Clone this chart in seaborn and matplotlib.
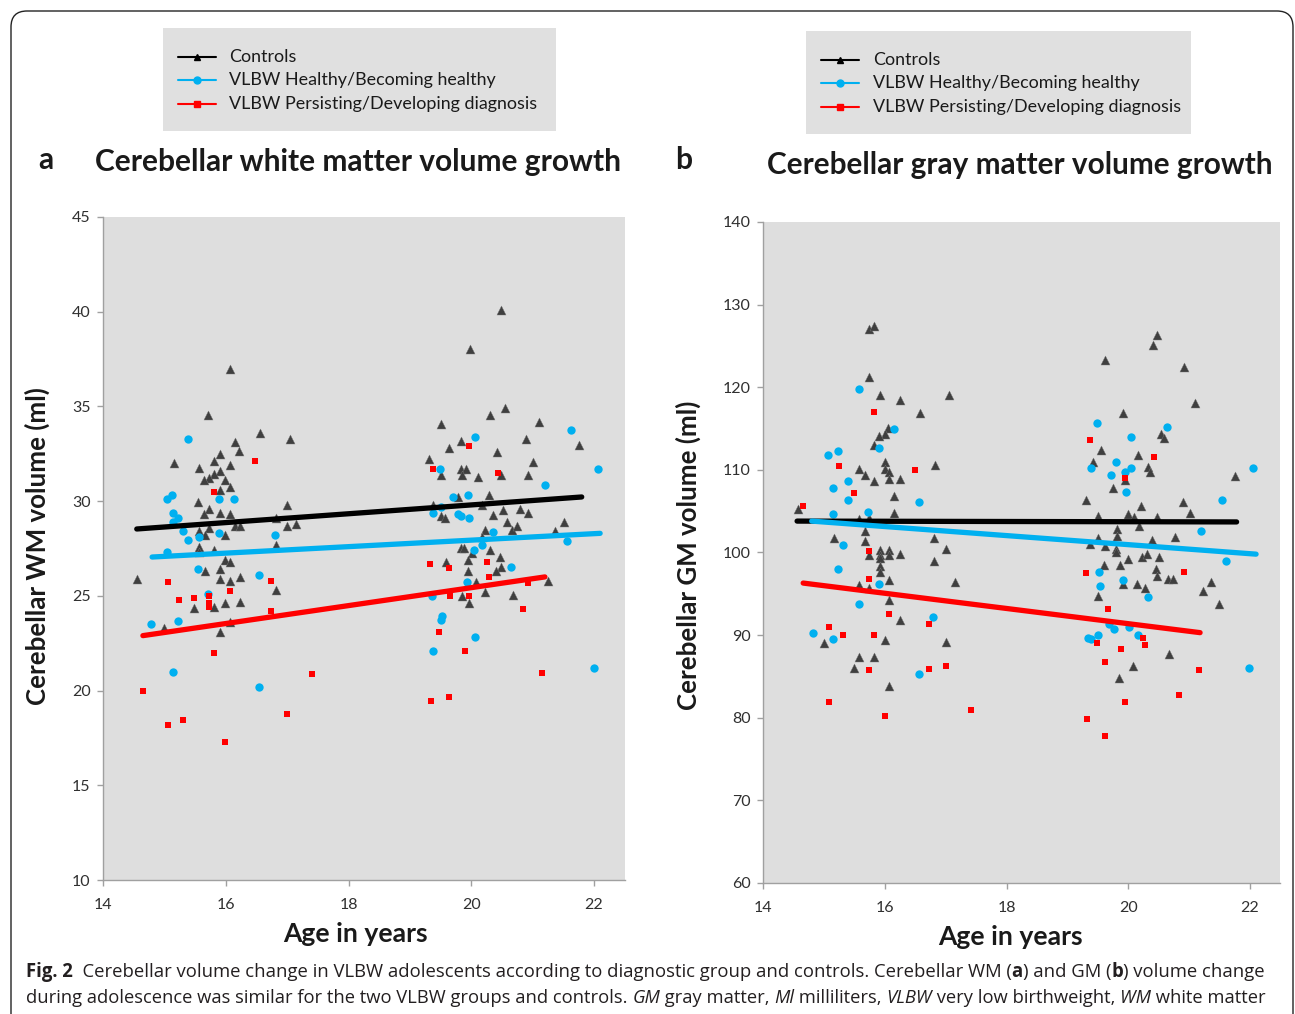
import matplotlib
matplotlib.use("Agg")
import matplotlib.pyplot as plt
import seaborn as sns
from matplotlib.lines import Line2D
from matplotlib.patches import Rectangle, FancyBboxPatch
from matplotlib.transforms import IdentityTransform

# ---------------- data ----------------
# Panel a: cerebellar white matter volume (ml)
wm_ctrl_age = [16.07, 15.71, 16.55, 17.05, 16.15, 16.22, 15.9, 15.16, 15.81, 16.07, 15.56, 15.9, 15.81, 15.72,
               15.65, 15.98, 16.07, 15.9, 15.54, 16.99, 15.72, 15.65, 15.9, 16.07, 16.82, 17.14, 16.15, 16.23,
               16.99, 15.56, 15.72, 15.66, 15.99, 16.82, 15.56, 15.81, 15.56, 15.99, 16.07, 15.66, 15.9, 14.56,
               15.9, 16.07, 16.23, 16.82, 15.81, 15.48, 15.99, 16.23, 15.0, 15.9, 16.07,
               20.49, 19.98, 20.55, 20.31, 19.51, 21.1, 19.83, 20.9, 19.64, 20.42, 21.75, 19.31, 21.0, 19.83,
               19.92, 19.51, 19.85, 20.11, 20.49, 20.92, 19.79, 20.29, 19.37, 20.18, 20.51, 20.79, 19.5, 20.93,
               19.57, 20.36, 20.59, 21.51, 20.22, 20.66, 20.74, 21.36, 20.18, 19.83, 19.88, 20.31, 20.01, 20.47,
               19.94, 19.59, 20.49, 20.4, 19.94, 20.07, 21.25, 19.85, 20.22, 20.68, 19.96]
wm_ctrl_vol = [37.0, 34.56, 33.6, 33.3, 33.1, 32.65, 32.5, 32.0, 32.1, 31.9, 31.75, 31.6, 31.45, 31.2,
               31.1, 31.1, 30.75, 30.6, 29.94, 29.8, 29.6, 29.3, 29.4, 29.3, 29.1, 28.8, 28.7, 28.7,
               28.7, 28.45, 28.57, 28.2, 28.2, 27.7, 27.6, 27.4, 27.3, 26.9, 26.8, 26.3, 26.4, 25.9,
               25.9, 25.8, 26.0, 25.3, 24.4, 24.35, 24.6, 24.7, 23.3, 23.1, 23.6,
               40.09, 38.03, 34.92, 34.56, 34.07, 34.2, 33.2, 33.3, 32.8, 32.6, 32.95, 32.2, 32.05, 31.7,
               31.7, 31.4, 31.4, 31.3, 31.4, 31.4, 30.2, 30.3, 29.8, 29.8, 29.55, 29.6, 29.2, 29.4,
               29.1, 29.25, 28.9, 28.9, 28.5, 28.5, 28.7, 28.4, 28.1, 27.55, 27.55, 27.4, 27.25, 27.05,
               26.9, 26.8, 26.5, 26.3, 26.3, 25.75, 25.8, 25.0, 25.2, 25.05, 24.6]
wm_healthy_age = [15.38, 15.13, 15.05, 15.89, 16.13, 15.14, 15.23, 15.14, 15.3, 15.89, 15.38, 15.57, 16.8, 15.05,
                  15.55, 16.54, 15.71, 14.79, 15.23, 15.14, 16.54,
                  20.06, 21.63, 19.49, 22.07, 21.2, 19.71, 19.95, 19.51, 19.38, 19.79, 19.83, 19.96, 20.35, 21.56,
                  20.17, 20.04, 20.65, 19.93, 19.36, 19.53, 19.51, 20.06, 19.38, 22.0]
wm_healthy_vol = [33.3, 30.35, 30.1, 30.1, 30.1, 29.4, 29.1, 28.9, 28.4, 28.3, 27.97, 28.1, 28.2, 27.3,
                  26.4, 26.1, 25.1, 23.5, 23.65, 21.0, 20.2,
                  33.4, 33.74, 31.7, 31.7, 30.83, 30.2, 30.3, 29.7, 29.4, 29.3, 29.2, 29.1, 28.35, 27.9,
                  27.7, 27.4, 26.5, 25.75, 25.0, 23.95, 23.7, 22.85, 22.1, 21.2]
wm_diag_age = [16.48, 15.81, 15.06, 16.73, 16.07, 15.72, 15.24, 15.48, 15.72, 15.72, 16.73, 15.81, 14.65, 15.06,
               15.31, 16.99, 15.99, 17.4,
               19.96, 19.37, 20.44, 20.25, 19.33, 19.64, 20.29, 20.92, 19.65, 19.96, 20.84, 19.48, 19.9, 21.16,
               19.35, 19.64]
wm_diag_vol = [32.1, 30.5, 25.75, 25.8, 25.25, 25.0, 24.8, 24.9, 24.6, 24.4, 24.2, 22.0, 20.0, 18.2,
               18.45, 18.75, 17.3, 20.9,
               32.9, 31.7, 31.5, 26.8, 26.7, 26.45, 26.0, 25.7, 25.0, 25.0, 24.3, 23.1, 22.1, 20.94,
               19.45, 19.65]
# fitted growth lines (start / end)
wm_fit_ctrl_age, wm_fit_ctrl_vol = [14.55, 21.8], [28.53, 30.22]
wm_fit_healthy_age, wm_fit_healthy_vol = [14.8, 22.1], [27.05, 28.3]
wm_fit_diag_age, wm_fit_diag_vol = [14.65, 21.2], [22.9, 26.0]

# Panel b: cerebellar gray matter volume (ml)
gm_ctrl_age = [15.74, 15.83, 15.74, 15.92, 16.25, 17.06, 16.58, 16.06, 16.0, 15.91, 15.82, 16.0, 15.58, 16.0,
               16.07, 16.82, 15.68, 16.07, 16.25, 15.83, 16.16, 14.57, 16.16, 15.58, 15.74, 15.68, 15.17, 15.68,
               16.81, 17.0, 15.74, 15.92, 15.92, 16.07, 16.07, 16.25, 16.81, 15.92, 15.92, 15.92, 16.07, 15.58,
               15.74, 17.15, 16.07, 16.25, 16.0, 15.0, 17.0, 15.58, 15.83, 15.5, 16.07,
               20.47, 20.41, 19.62, 20.92, 21.09, 19.92, 20.54, 20.59, 19.55, 20.16, 19.42, 20.32, 20.35, 19.95,
               21.76, 19.75, 19.3, 20.9, 20.21, 21.01, 19.5, 19.99, 20.1, 20.47, 19.81, 19.81, 20.17, 19.5,
               19.37, 19.62, 20.39, 20.77, 19.8, 19.8, 20.0, 20.23, 20.31, 20.5, 19.6, 19.87, 20.45, 20.47,
               20.66, 20.74, 19.92, 20.15, 20.28, 21.36, 21.23, 19.5, 21.49, 20.67, 20.08, 19.84]
gm_ctrl_vol = [127.1, 127.4, 121.2, 119.1, 118.5, 119.1, 116.85, 115.1, 114.4, 114.1, 113.0, 111.0, 110.1, 110.1,
               109.7, 110.55, 109.4, 108.9, 108.9, 108.6, 106.8, 105.3, 104.8, 104.0, 104.2, 102.6, 101.7, 101.35,
               101.7, 100.4, 99.7, 100.3, 99.7, 100.3, 99.7, 99.8, 98.97, 99.3, 98.4, 97.6, 96.7, 96.1,
               95.75, 96.4, 94.3, 91.8, 89.4, 89.0, 89.2, 87.3, 87.3, 86.0, 83.85,
               126.3, 125.15, 123.3, 122.5, 118.1, 116.85, 114.4, 113.8, 112.4, 111.8, 111.0, 110.4, 109.8, 108.75,
               109.2, 107.8, 106.3, 106.1, 105.6, 104.8, 104.4, 104.7, 104.3, 104.3, 102.8, 102.0, 103.2, 101.8,
               101.0, 100.75, 101.55, 101.9, 100.4, 100.1, 99.25, 99.4, 99.8, 99.4, 98.5, 98.5, 98.0, 97.2,
               96.8, 96.8, 96.2, 96.2, 95.65, 96.4, 95.4, 94.7, 93.8, 87.75, 86.3, 84.85]
gm_healthy_age = [15.57, 16.15, 15.9, 15.24, 15.07, 15.4, 15.15, 15.4, 16.57, 15.15, 15.72, 15.31, 15.24, 15.9,
                  15.57, 16.8, 14.82, 15.15, 16.56,
                  19.49, 20.64, 20.05, 19.8, 19.38, 20.05, 19.94, 19.72, 22.05, 19.96, 21.54, 21.19, 21.61, 19.52,
                  19.91, 19.53, 20.33, 19.69, 19.76, 20.02, 19.34, 19.39, 19.5, 20.16, 21.98]
gm_healthy_vol = [119.8, 114.9, 112.65, 112.3, 111.8, 108.7, 107.8, 106.3, 106.1, 104.7, 104.9, 100.95, 97.97, 96.2,
                  93.8, 92.15, 90.2, 89.5, 85.3,
                  115.7, 115.2, 113.95, 111.0, 110.2, 110.2, 109.8, 109.4, 110.2, 107.3, 106.3, 102.6, 98.97, 97.7,
                  96.7, 96.0, 94.6, 91.3, 90.7, 91.0, 89.7, 89.5, 90.0, 90.05, 86.0]
gm_diag_age = [15.82, 15.25, 16.49, 15.5, 14.66, 15.74, 15.74, 16.07, 16.72, 15.08, 15.32, 15.82, 15.74, 16.72,
               17.0, 15.08, 16.0, 17.41,
               19.37, 20.43, 19.95, 19.3, 20.92, 19.67, 19.49, 20.24, 20.28, 19.88, 19.62, 21.16, 19.95, 20.83,
               19.33, 19.62]
gm_diag_vol = [117.0, 110.5, 110.0, 107.2, 105.6, 100.2, 96.8, 92.6, 91.3, 90.95, 90.0, 90.0, 85.75, 85.9,
               86.3, 81.9, 80.25, 80.9,
               113.6, 111.6, 109.0, 97.5, 97.6, 93.2, 89.1, 89.65, 88.8, 88.35, 86.7, 85.75, 81.9, 82.7,
               79.8, 77.8]
gm_fit_ctrl_age, gm_fit_ctrl_vol = [14.56, 21.78], [103.8, 103.7]
gm_fit_healthy_age, gm_fit_healthy_vol = [14.8, 22.1], [103.8, 99.8]
gm_fit_diag_age, gm_fit_diag_vol = [14.66, 21.18], [96.3, 90.3]

legend_labels = ["Controls", "VLBW Healthy/Becoming healthy", "VLBW Persisting/Developing diagnosis"]
wm_yticks = [10, 15, 20, 25, 30, 35, 40, 45]
gm_yticks = [60, 70, 80, 90, 100, 110, 120, 130, 140]
age_ticks = [14, 16, 18, 20, 22]

# ---------------- styling ----------------
W, H = 1295, 1014
sns.set_theme(style="white")
plt.rcParams["font.family"] = ["Lato", "DejaVu Sans"]

C_CTRL, C_HEAL, C_DIAG = "#3f3f3f", "#00b0f0", "#ff0000"
BG = "#dedede"
TXT = "#1a1a1a"

fig = plt.figure(figsize=(W / 100, H / 100), dpi=100)
fig.patch.set_facecolor("white")
renderer = fig.canvas.get_renderer()


def fx(px):
    return px / W


def fy(py):
    return 1 - py / H


def measure(s, **kw):
    t1 = fig.text(0, 0, "x" + s + "x", **kw)
    t2 = fig.text(0, 0, "xx", **kw)
    w = t1.get_window_extent(renderer).width - t2.get_window_extent(renderer).width
    t1.remove()
    t2.remove()
    return w


def fit_size(s, target, base=14, **kw):
    return base * target / measure(s, fontsize=base, **kw)


# outer rounded frame
frame = FancyBboxPatch((11, -30), 1282, H - 11 + 30, boxstyle="round,pad=0,rounding_size=16",
                       transform=IdentityTransform(), fill=False, ec="#222222", lw=1.0)
fig.add_artist(frame)


def make_axes(left, right, top, bottom, ylim, yticks, xright):
    ax = fig.add_axes([fx(left), fy(bottom), (right - left) / W, (bottom - top) / H])
    ax.set_facecolor(BG)
    for sp in ["top", "right"]:
        ax.spines[sp].set_visible(False)
    for sp in ["left", "bottom"]:
        ax.spines[sp].set_color("#a0a0a0")
        ax.spines[sp].set_linewidth(1.0)
    ax.set_xlim(14, xright)
    ax.set_ylim(*ylim)
    ax.set_xticks(age_ticks)
    ax.set_yticks(yticks)
    ax.tick_params(axis="both", direction="out", length=4, width=1, color="#a0a0a0",
                   labelsize=11.5, labelcolor="#303030", pad=5, left=True, bottom=True)
    ax.tick_params(axis="x", pad=9)
    ax.set_xlabel("")
    ax.set_ylabel("")
    return ax


ax_a = make_axes(103, 625, 217, 880, (10, 45), wm_yticks, 14 + 522 / 61.375)
ax_b = make_axes(763, 1280, 222, 883, (60, 140), gm_yticks, 14 + 517 / 60.875)


def draw_panel(ax, ca, cv, ha, hv, da, dv, fits):
    sns.scatterplot(x=ca, y=cv, ax=ax, marker="^", color=C_CTRL, s=42, linewidth=0.3,
                    edgecolor="#777777", legend=False, zorder=3)
    sns.scatterplot(x=ha, y=hv, ax=ax, marker="o", color=C_HEAL, s=36, linewidth=0,
                    legend=False, zorder=3)
    sns.scatterplot(x=da, y=dv, ax=ax, marker="s", color=C_DIAG, s=20, linewidth=0,
                    legend=False, zorder=3)
    for (fa, fv), col in zip(fits, ["black", C_HEAL, C_DIAG]):
        sns.lineplot(x=fa, y=fv, ax=ax, color=col, linewidth=3.8, legend=False, zorder=4,
                     solid_capstyle="round")
    ax.set_xlabel("")
    ax.set_ylabel("")


draw_panel(ax_a, wm_ctrl_age, wm_ctrl_vol, wm_healthy_age, wm_healthy_vol, wm_diag_age, wm_diag_vol,
           [(wm_fit_ctrl_age, wm_fit_ctrl_vol), (wm_fit_healthy_age, wm_fit_healthy_vol),
            (wm_fit_diag_age, wm_fit_diag_vol)])
draw_panel(ax_b, gm_ctrl_age, gm_ctrl_vol, gm_healthy_age, gm_healthy_vol, gm_diag_age, gm_diag_vol,
           [(gm_fit_ctrl_age, gm_fit_ctrl_vol), (gm_fit_healthy_age, gm_fit_healthy_vol),
            (gm_fit_diag_age, gm_fit_diag_vol)])

# ---------------- legends (grey boxes) ----------------
leg_size = fit_size(legend_labels[2], 309)


def draw_legend(x0, y0, x1, y1, line_x0, line_x1, text_x, rows_y):
    fig.add_artist(Rectangle((fx(x0), fy(y1)), (x1 - x0) / W, (y1 - y0) / H,
                             transform=fig.transFigure, fc="#e0e0e0", ec="none", zorder=0))
    styles = [("black", "^", 5), (C_HEAL, "o", 5), (C_DIAG, "s", 5)]
    for (col, mk, ms), lab, ry in zip(styles, legend_labels, rows_y):
        fig.add_artist(Line2D([fx(line_x0), fx(line_x1)], [fy(ry), fy(ry)], transform=fig.transFigure,
                              color=col, lw=1.5, zorder=2))
        fig.add_artist(Line2D([fx((line_x0 + line_x1) / 2)], [fy(ry)], transform=fig.transFigure,
                              color=col, marker=mk, markersize=ms, lw=0, zorder=3))
        fig.text(fx(text_x), fy(ry), lab, fontsize=leg_size, color=TXT, va="center", ha="left")


draw_legend(163, 28, 556, 131, 178, 216, 229, [57, 80, 104])
draw_legend(806, 31, 1191, 134, 821, 859, 873, [60, 83, 107])

# ---------------- titles & axis labels ----------------
title_a = "Cerebellar white matter volume growth"
title_b = "Cerebellar gray matter volume growth"
ts = fit_size(title_a, 529, fontweight="bold")
fig.text(fx(95), fy(162), title_a, fontsize=ts, fontweight="bold", color=TXT, va="center", ha="left")
fig.text(fx(38), fy(160), "a", fontsize=ts, fontweight="bold", color=TXT, va="center", ha="left")
tsb = fit_size(title_b, 509, fontweight="bold")
fig.text(fx(767), fy(165), title_b, fontsize=tsb, fontweight="bold", color=TXT, va="center", ha="left")
fig.text(fx(675), fy(160), "b", fontsize=ts, fontweight="bold", color=TXT, va="center", ha="left")

xl = "Age in years"
xs = fit_size(xl, 145, fontweight="bold")
fig.text(fx(355), fy(934), xl, fontsize=xs, fontweight="bold", color=TXT, va="center", ha="center")
fig.text(fx(1010), fy(937), xl, fontsize=xs, fontweight="bold", color=TXT, va="center", ha="center")

yla = "Cerebellar WM volume (ml)"
ylb = "Cerebellar GM volume (ml)"
ysa = fit_size(yla, 319, fontweight="bold")
ysb = fit_size(ylb, 310, fontweight="bold")
fig.text(fx(37), fy(546), yla, fontsize=ysa, fontweight="bold", color=TXT, va="center", ha="center",
         rotation=90)
fig.text(fx(688), fy(555), ylb, fontsize=ysb, fontweight="bold", color=TXT, va="center", ha="center",
         rotation=90)

# ---------------- caption ----------------
CAP_FAM = ["Open Sans", "DejaVu Sans"]
line1 = [("Fig. 2", "bold", "normal"),
         ("  Cerebellar volume change in VLBW adolescents according to diagnostic group and controls. Cerebellar WM (",
          "normal", "normal"),
         ("a", "bold", "normal"), (") and GM (", "normal", "normal"), ("b", "bold", "normal"),
         (") volume change", "normal", "normal")]
line2 = [("during adolescence was similar for the two VLBW groups and controls. ", "normal", "normal"),
         ("GM", "normal", "italic"), (" gray matter, ", "normal", "normal"), ("Ml", "normal", "italic"),
         (" milliliters, ", "normal", "normal"), ("VLBW", "normal", "italic"),
         (" very low birthweight, ", "normal", "normal"), ("WM", "normal", "italic"),
         (" white matter", "normal", "normal")]


def runs_width(runs, size):
    return sum(measure(s, fontsize=size, fontweight=w, fontstyle=st, family=CAP_FAM) for s, w, st in runs)


cap_size1 = 12 * 1236 / runs_width(line1, 12)
cap_size2 = 12 * 1234 / runs_width(line2, 12)


def draw_runs(x, y, runs, size):
    cur = x
    for s, w, st in runs:
        fig.text(fx(cur), fy(y), s, fontsize=size, fontweight=w, fontstyle=st, family=CAP_FAM,
                 color="#231f20", va="center", ha="left")
        cur += measure(s, fontsize=size, fontweight=w, fontstyle=st, family=CAP_FAM)


draw_runs(26, 972, line1, cap_size1)
draw_runs(26, 998, line2, cap_size2)

fig.savefig("out.png", dpi=100, facecolor="white")
